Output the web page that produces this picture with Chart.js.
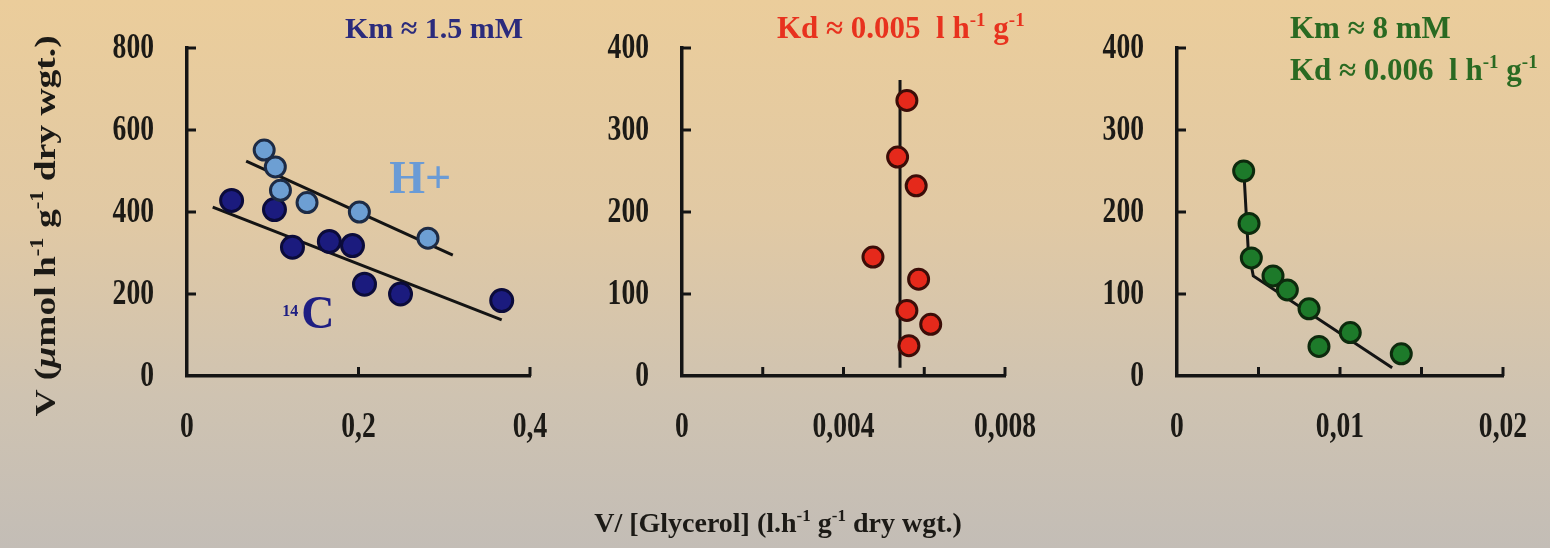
<!DOCTYPE html>
<html>
<head>
<meta charset="utf-8">
<script src="https://cdn.jsdelivr.net/npm/chart.js@4.4.1/dist/chart.umd.min.js"></script>
<style>
  html, body { margin: 0; padding: 0; }
  body {
    width: 1550px; height: 548px; overflow: hidden; position: relative;
    background: linear-gradient(to bottom, #ebcd9b 0%, #e1c9a4 40%, #cfc3b1 72%, #c3bdb6 100%);
  }
  canvas { position: absolute; top: 0; }
</style>
</head>
<body>
<canvas id="c1" width="570" height="548" style="left:0px"></canvas>
<canvas id="c2" width="480" height="548" style="left:570px"></canvas>
<canvas id="c3" width="500" height="548" style="left:1050px"></canvas>
<script>
// panel 1 : H+ and 14C uptake
const hPlusX = [0.090, 0.103, 0.109, 0.140, 0.201, 0.281];
const hPlusY = [551, 510, 453, 423, 400, 336];
const hPlusFitX = [0.069, 0.310];
const hPlusFitY = [524, 295];
const c14X = [0.052, 0.102, 0.123, 0.166, 0.193, 0.207, 0.249, 0.367];
const c14Y = [428, 406, 314, 328, 318, 224, 200, 184];
const c14FitX = [0.030, 0.367];
const c14FitY = [412, 137];

// panel 2 : diffusion
const kdX = [0.00557, 0.00534, 0.00580, 0.00473, 0.00586, 0.00557, 0.00616, 0.00562];
const kdY = [336, 267, 232, 145, 118, 80, 63, 37];
const kdFitX = [0.0054, 0.0054];
const kdFitY = [10, 361];

// panel 3 : both
const bothX = [0.00409, 0.00442, 0.00456, 0.00589, 0.00677, 0.00810, 0.00871, 0.01063, 0.01376];
const bothY = [250, 186, 144, 122, 105, 82, 36, 53, 27];
const bothFitX = [0.0041, 0.00437, 0.00468, 0.0132];
const bothFitY = [250, 154, 122, 10];

const xLabels1 = ["0", "0,2", "0,4"];
const xLabels2 = ["0", "", "0,004", "", "0,008"];
const xLabels3 = ["0", "", "0,01", "", "0,02"];

const SERIF = '"Liberation Serif", "Times New Roman", serif';
const pts = (xs, ys) => xs.map((x, i) => ({ x: x, y: ys[i] }));

function rich(ctx, parts, x, y, size, color, align) {
  const fontOf = (k) => (k === "it" ? "italic " : "") + "bold " +
    (k === "sup" ? Math.round(size * 0.6) : size) + "px " + SERIF;
  let w = 0;
  parts.forEach(([t, k]) => { ctx.font = fontOf(k); w += ctx.measureText(t).width; });
  let cx = align === "center" ? x - w / 2 : align === "right" ? x - w : x;
  ctx.fillStyle = color;
  ctx.textAlign = "left";
  ctx.textBaseline = "alphabetic";
  parts.forEach(([t, k]) => {
    ctx.font = fontOf(k);
    ctx.fillText(t, cx, k === "sup" ? y - size * 0.4 : y);
    cx += ctx.measureText(t).width;
  });
}

// tall narrow tick label, like the source's squeezed digits
function tickText(ctx, text, x, y, align) {
  ctx.save();
  ctx.translate(x, y);
  ctx.scale(0.92, 1.22);
  ctx.font = "bold 30px " + SERIF;
  ctx.fillStyle = "#1c1a16";
  ctx.textAlign = align;
  ctx.textBaseline = "middle";
  ctx.fillText(text, 0, 0);
  ctx.restore();
}

// short tick marks pointing into the plot, plus the labels
const innerTicks = {
  id: "innerTicks",
  afterDraw(chart) {
    const ctx = chart.ctx;
    const xs = chart.scales.x, ys = chart.scales.y;
    const a = chart.chartArea;
    const labels = chart.options.plugins.innerTicks.xLabels;
    ctx.save();
    ctx.strokeStyle = "#141414";
    ctx.lineWidth = 3;
    xs.ticks.forEach((t, i) => {
      const p = xs.getPixelForValue(t.value);
      if (i > 0) {
        ctx.beginPath(); ctx.moveTo(p, a.bottom); ctx.lineTo(p, a.bottom - 9); ctx.stroke();
      }
      if (labels[i]) tickText(ctx, labels[i], p, a.bottom + 52, "center");
    });
    ys.ticks.forEach((t, i) => {
      const p = ys.getPixelForValue(t.value);
      if (i > 0) {
        ctx.beginPath(); ctx.moveTo(a.left, p); ctx.lineTo(a.left + 9, p); ctx.stroke();
      }
      tickText(ctx, String(t.value), a.left - 33, p + 1, "right");
    });
    ctx.restore();
  }
};

function makeChart(id, datasets, opts) {
  return new Chart(document.getElementById(id), {
    type: "scatter",
    data: { datasets: datasets },
    options: {
      responsive: false,
      animation: false,
      devicePixelRatio: 1,
      layout: { padding: { top: 48, left: 0, right: opts.padRight, bottom: 92 } },
      plugins: {
        legend: { display: false },
        tooltip: { enabled: false },
        innerTicks: { xLabels: opts.xLabels }
      },
      scales: {
        x: {
          type: "linear", min: 0, max: opts.xMax,
          grid: { drawOnChartArea: false, drawTicks: false },
          border: { display: true, color: "#141414", width: 3.5 },
          ticks: { stepSize: opts.xStep, autoSkip: false, maxRotation: 0, display: false },
          afterFit(s) { s.height = 80; s.paddingLeft = 0; s.paddingRight = 0; s.paddingTop = 0; s.paddingBottom = 0; }
        },
        y: {
          type: "linear", min: 0, max: opts.yMax,
          grid: { drawOnChartArea: false, drawTicks: false },
          border: { display: true, color: "#141414", width: 3.5 },
          ticks: { stepSize: opts.yStep, autoSkip: false, display: false },
          afterFit(s) { s.width = opts.yWidth; s.paddingLeft = 0; s.paddingRight = 0; s.paddingTop = 0; s.paddingBottom = 0; }
        }
      }
    },
    plugins: [innerTicks, { id: "notes", afterDraw: opts.notes }]
  });
}

const dots = (data, bg, border, r) => ({
  data: data, backgroundColor: bg, borderColor: border, borderWidth: 3,
  pointRadius: r, pointHoverRadius: r, clip: false, order: 1
});
const fit = (data) => ({
  data: data, showLine: true, borderColor: "#141414", borderWidth: 3,
  pointRadius: 0, pointHoverRadius: 0, fill: false, order: 2
});

makeChart("c1", [
  dots(pts(hPlusX, hPlusY), "#6d9fd3", "#1d2b45", 10),
  dots(pts(c14X, c14Y), "#1b1b7e", "#0b0b3a", 11),
  fit(pts(hPlusFitX, hPlusFitY)),
  fit(pts(c14FitX, c14FitY))
], {
  xMax: 0.4, xStep: 0.2, xLabels: xLabels1, yMax: 800, yStep: 200, yWidth: 187, padRight: 40,
  notes(chart) {
    const ctx = chart.ctx, xs = chart.scales.x, ys = chart.scales.y;
    rich(ctx, [["Km \u2248 1.5 mM", ""]], 434, 38, 30, "#2b2b7c", "center");
    rich(ctx, [["H+", ""]], xs.getPixelForValue(0.272), ys.getPixelForValue(446), 46, "#6a9bd6", "center");
    const lx = xs.getPixelForValue(0.111), ly = ys.getPixelForValue(117);
    rich(ctx, [["14", "sup"]], lx, ly - 2, 26, "#1e1e82", "left");
    rich(ctx, [["C", ""]], lx + 19, ly, 46, "#1e1e82", "left");
    // y axis title, stretched along its length like the source
    ctx.save();
    ctx.translate(55, 226);
    ctx.rotate(-Math.PI / 2);
    ctx.scale(1.25, 1);
    rich(ctx, [["V (", ""], ["\u03bc", "it"], ["mol h", ""], ["-1", "sup"], [" g", ""], ["-1", "sup"], [" dry wgt.)", ""]],
      0, 0, 30, "#1c1a16", "center");
    ctx.restore();
  }
});

makeChart("c2", [
  dots(pts(kdX, kdY), "#e5291b", "#3b0d08", 10),
  fit(pts(kdFitX, kdFitY))
], {
  xMax: 0.008, xStep: 0.002, xLabels: xLabels2, yMax: 400, yStep: 100, yWidth: 112, padRight: 45,
  notes(chart) {
    const ctx = chart.ctx;
    rich(ctx, [["Kd \u2248 0.005  l h", ""], ["-1", "sup"], [" g", ""], ["-1", "sup"]], 207, 38, 31, "#e8321e", "left");
    rich(ctx, [["V/ [Glycerol] (l.h", ""], ["-1", "sup"], [" g", ""], ["-1", "sup"], [" dry wgt.)", ""]],
      208, 532, 28, "#1c1a16", "center");
  }
});

makeChart("c3", [
  dots(pts(bothX, bothY), "#1d7a2a", "#0d2a0d", 10),
  fit(pts(bothFitX, bothFitY))
], {
  xMax: 0.02, xStep: 0.005, xLabels: xLabels3, yMax: 400, yStep: 100, yWidth: 127, padRight: 47,
  notes(chart) {
    const ctx = chart.ctx;
    rich(ctx, [["Km \u2248 8 mM", ""]], 240, 38, 31, "#2a6a22", "left");
    rich(ctx, [["Kd \u2248 0.006  l h", ""], ["-1", "sup"], [" g", ""], ["-1", "sup"]], 240, 80, 31, "#2a6a22", "left");
  }
});
</script>
</body>
</html>
